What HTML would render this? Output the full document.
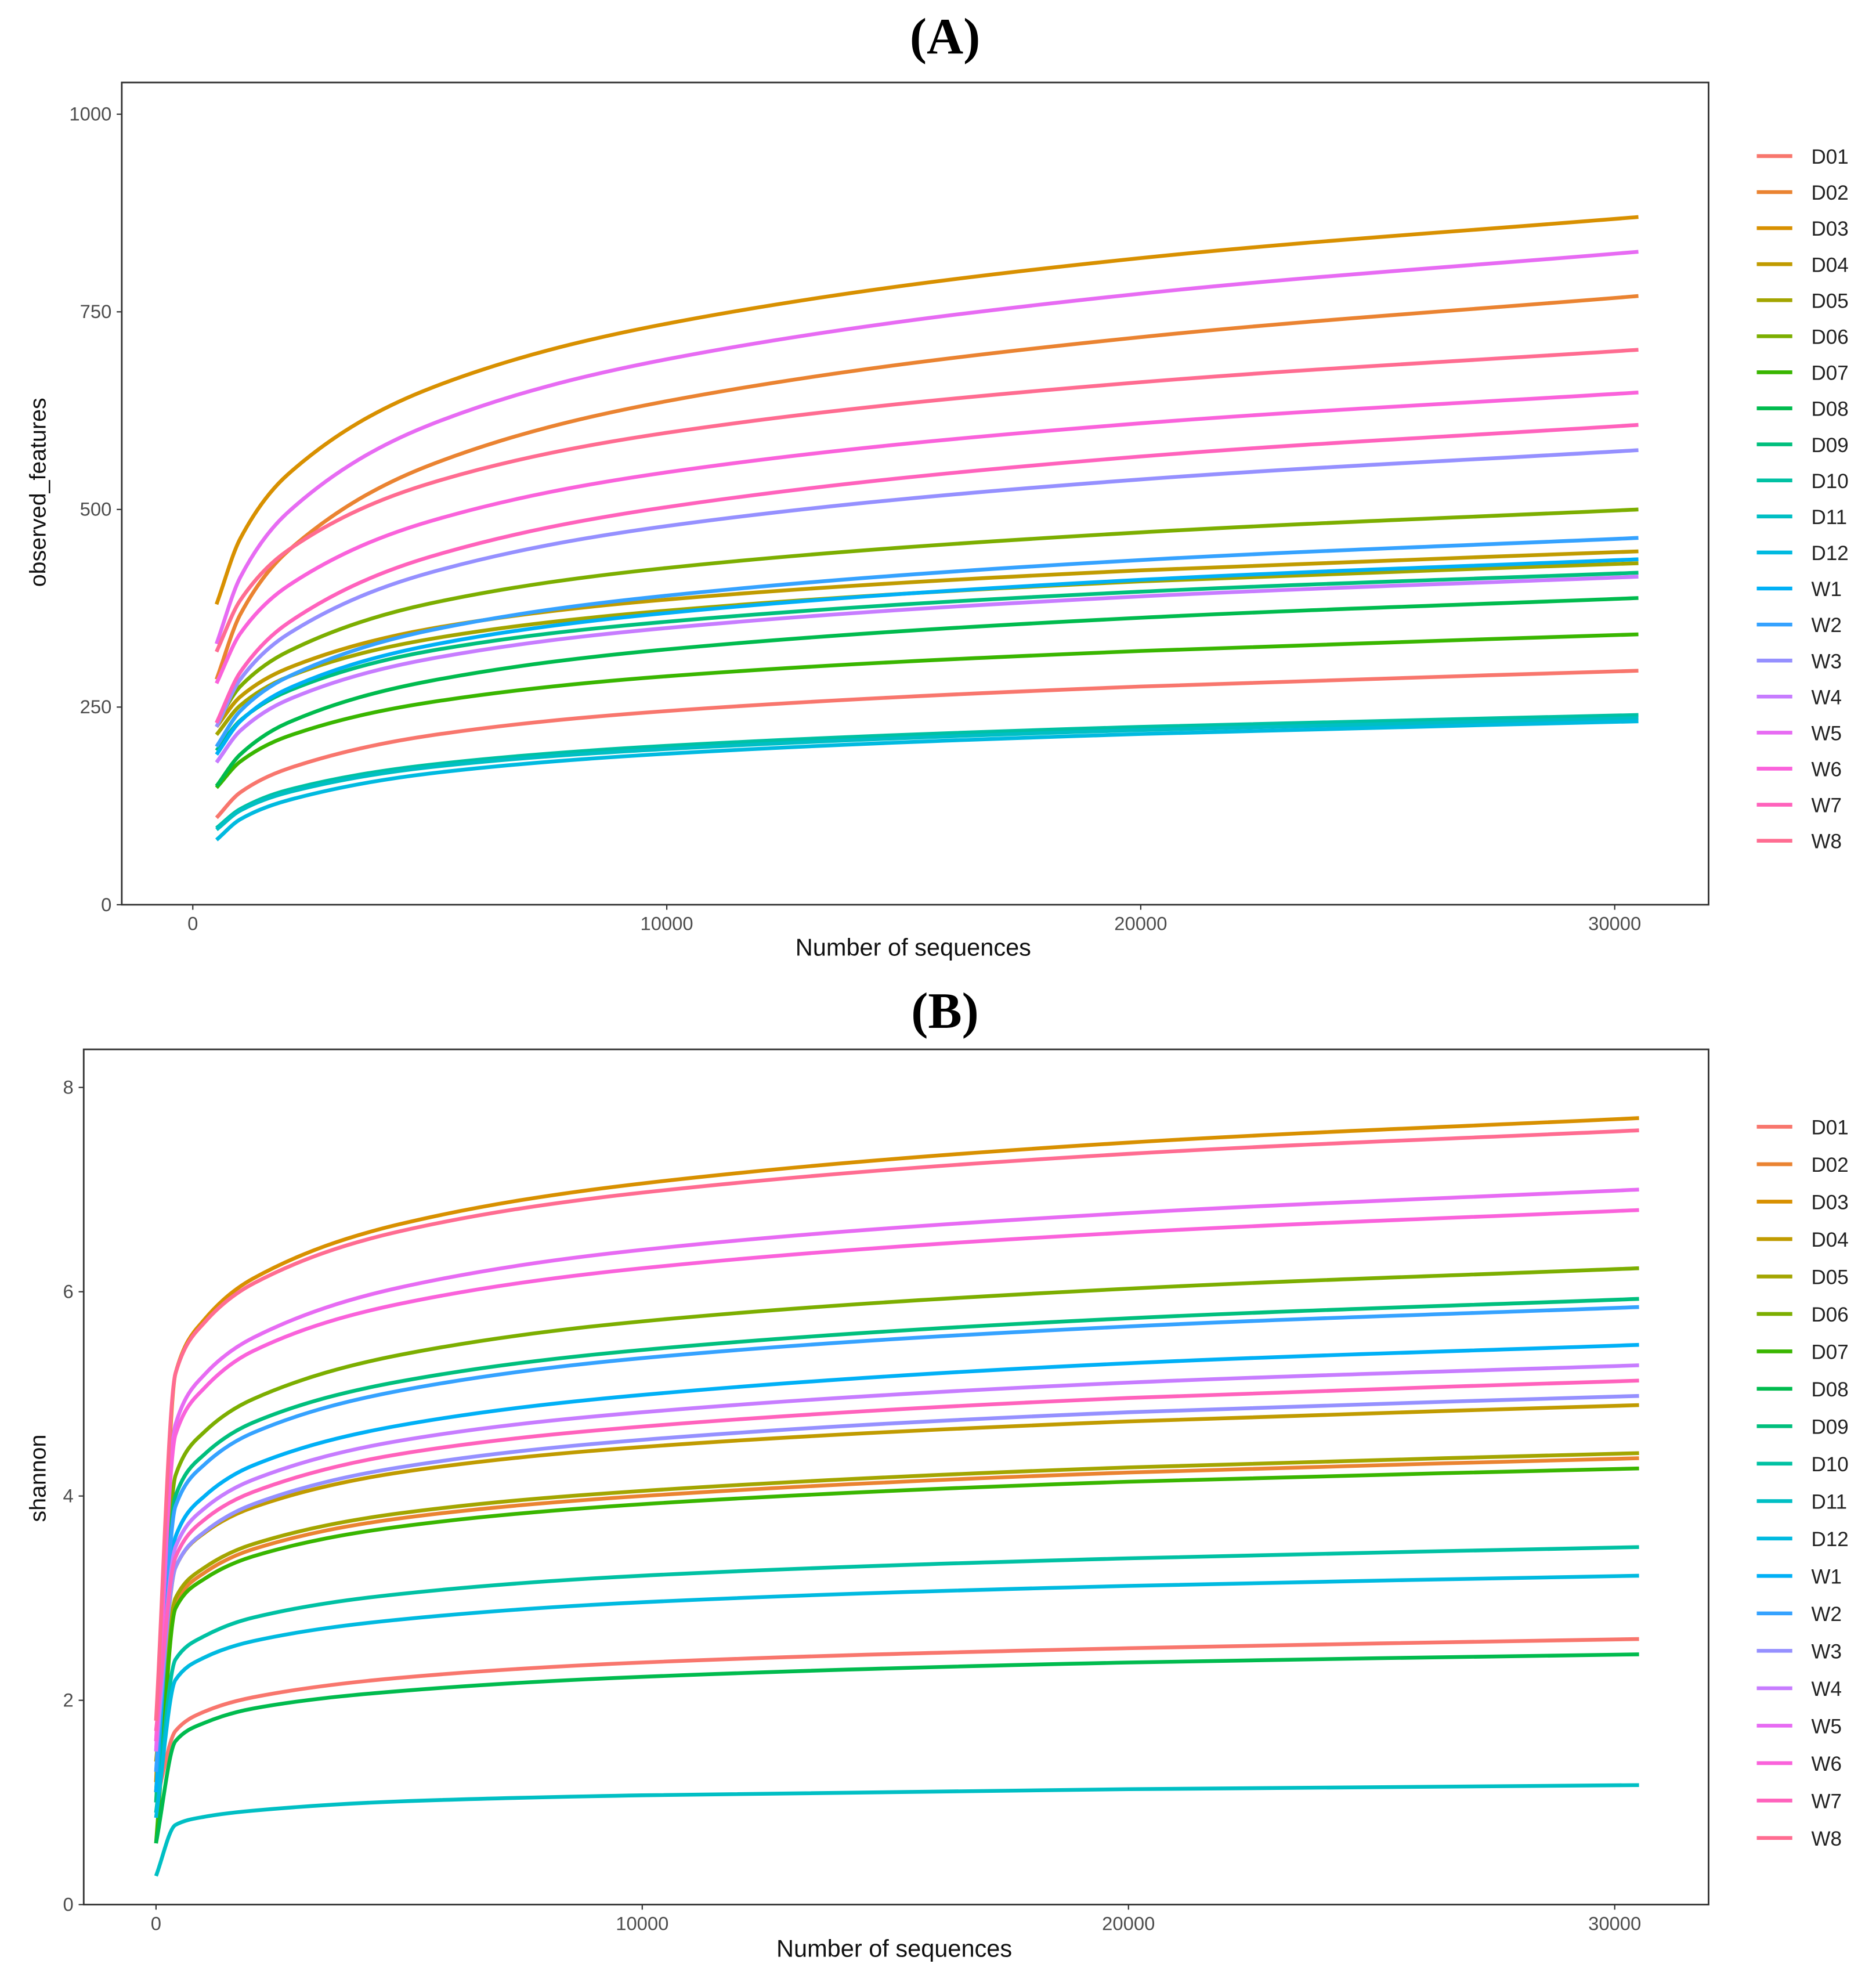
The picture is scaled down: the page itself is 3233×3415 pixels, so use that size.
<!DOCTYPE html>
<html><head><meta charset="utf-8"><style>
html,body{margin:0;padding:0;background:#fff}
svg{display:block}
text{font-family:"Liberation Sans",sans-serif}
</style></head><body>
<svg id="fig" width="3233" height="3415" viewBox="0 0 1479 1562" preserveAspectRatio="none" xmlns="http://www.w3.org/2000/svg">
<text x="745" y="42" text-anchor="middle" font-family="Liberation Serif,serif" font-weight="bold" font-size="40" style="font-family:'Liberation Serif',serif">(A)</text>
<text x="745" y="810" text-anchor="middle" font-weight="bold" font-size="40" style="font-family:'Liberation Serif',serif">(B)</text>
<g id="pa"></g>
<g id="pb"></g>
</svg>
<script>
const seriesNames = ["D01","D02","D03","D04","D05","D06","D07","D08","D09","D10","D11","D12","W1","W2","W3","W4","W5","W6","W7","W8"];
const seriesColors = ["#F8766D","#EA8331","#D89000","#C09B00","#A3A500","#7CAE00","#39B600","#00BB4E","#00BF7D","#00C1A3","#00BFC4","#00BAE0","#00B0F6","#35A2FF","#9590FF","#C77CFF","#E76BF3","#FA62DB","#FF62BC","#FF6C91"];
const xTicks = [0,10000,20000,30000];
const aX = [500,1000,2000,5000,10000,20000,30500];
const aYTicks = [0,250,500,750,1000];
const aValues = {
D01:[110,142,172,214,245,276,296],
D02:[285,367,447,556,637,718,770],
D03:[380,463,544,653,735,818,870],
D04:[225,263,299,349,386,423,447],
D05:[215,252,288,336,372,409,432],
D06:[230,276,320,381,426,471,500],
D07:[148,181,213,256,289,321,342],
D08:[150,190,230,283,323,363,388],
D09:[195,233,270,321,358,396,420],
D10:[97,121,145,177,201,225,240],
D11:[95,119,142,174,197,221,236],
D12:[82,108,132,166,191,216,232],
W1:[190,232,273,328,369,411,437],
W2:[200,245,288,347,391,436,464],
W3:[225,285,342,420,479,538,575],
W4:[180,220,259,311,350,390,415],
W5:[330,414,496,607,690,773,826],
W6:[280,343,403,485,547,609,648],
W7:[230,294,356,440,503,567,607],
W8:[320,385,448,533,597,661,702]};
const bX = [0,400,1000,2000,5000,10000,20000,30500];
const bYTicks = [0,2,4,6,8];
const bValues = {
D01:[1.0,1.7,1.89,2.03,2.22,2.37,2.51,2.60],
D02:[1.2,2.95,3.25,3.48,3.78,4.00,4.23,4.37],
D03:[1.2,5.2,5.73,6.13,6.66,7.06,7.46,7.70],
D04:[1.4,3.3,3.64,3.89,4.23,4.48,4.73,4.89],
D05:[1.1,3.0,3.30,3.53,3.83,4.05,4.28,4.42],
D06:[1.1,4.2,4.63,4.95,5.38,5.71,6.03,6.23],
D07:[0.6,2.9,3.19,3.41,3.70,3.92,4.14,4.27],
D08:[0.6,1.6,1.78,1.92,2.09,2.23,2.37,2.45],
D09:[1.0,4.0,4.41,4.72,5.12,5.43,5.74,5.93],
D10:[0.9,2.4,2.63,2.81,3.04,3.22,3.39,3.50],
D11:[0.28,0.78,0.86,0.92,1.01,1.07,1.13,1.17],
D12:[0.85,2.2,2.42,2.58,2.79,2.96,3.12,3.22],
W1:[1.1,3.6,4.00,4.30,4.69,4.99,5.30,5.48],
W2:[1.3,3.9,4.31,4.62,5.03,5.35,5.66,5.85],
W3:[1.5,3.3,3.65,3.92,4.28,4.55,4.82,4.98],
W4:[1.6,3.5,3.88,4.16,4.54,4.82,5.11,5.28],
W5:[1.5,4.7,5.19,5.55,6.04,6.41,6.77,7.00],
W6:[1.6,4.6,5.06,5.42,5.88,6.23,6.58,6.80],
W7:[1.7,3.4,3.77,4.04,4.41,4.68,4.96,5.13],
W8:[1.8,5.2,5.70,6.08,6.59,6.97,7.35,7.58]};

const NS="http://www.w3.org/2000/svg";
function mk(tag,attrs,parent){const e=document.createElementNS(NS,tag);for(const k in attrs)e.setAttribute(k,attrs[k]);parent.appendChild(e);return e;}
function monotone(pts){
  const n=pts.length;const dx=[],sl=[];
  for(let i=0;i<n-1;i++){dx.push(pts[i+1][0]-pts[i][0]);sl.push((pts[i+1][1]-pts[i][1])/dx[i]);}
  const m=new Array(n);m[0]=sl[0];m[n-1]=sl[n-2];
  for(let i=1;i<n-1;i++){ if(sl[i-1]*sl[i]<=0)m[i]=0; else {const w1=2*dx[i]+dx[i-1],w2=dx[i]+2*dx[i-1];m[i]=(w1+w2)/(w1/sl[i-1]+w2/sl[i]);}}
  let d="M"+pts[0][0].toFixed(2)+","+pts[0][1].toFixed(2);
  for(let i=0;i<n-1;i++){const h=dx[i]/3;
    d+=" C"+(pts[i][0]+h).toFixed(2)+","+(pts[i][1]+m[i]*h).toFixed(2)+" "+(pts[i+1][0]-h).toFixed(2)+","+(pts[i+1][1]-m[i+1]*h).toFixed(2)+" "+pts[i+1][0].toFixed(2)+","+pts[i+1][1].toFixed(2);}
  return d;
}
function panel(g,cfg){
  const sx=v=>cfg.x0+(v/30000)*(cfg.x30-cfg.x0);
  const sy=v=>cfg.yb-(v/cfg.ymax)*(cfg.yb-cfg.yt);
  const box=mk("rect",{x:cfg.L,y:cfg.T,width:cfg.R-cfg.L,height:cfg.B-cfg.T,fill:"none",stroke:"#333","stroke-width":1.3},g);
  
  
  cfg.yTicks.forEach(t=>{
    const y=sy(t);
    const tk=mk("line",{x1:cfg.L-4,x2:cfg.L,y1:y,y2:y,stroke:"#333","stroke-width":1},g);
    
    
    const tx=mk("text",{x:cfg.L-8,y:y+5,"text-anchor":"end","font-size":15,fill:"#4d4d4d"},g);tx.textContent=t;
    
    
  });
  xTicks.forEach(t=>{
    const x=sx(t);
    const tk=mk("line",{x1:x,x2:x,y1:cfg.B,y2:cfg.B+4,stroke:"#333","stroke-width":1},g);
    
    
    const tx=mk("text",{x:x,y:cfg.B+20,"text-anchor":"middle","font-size":15,fill:"#4d4d4d"},g);tx.textContent=t;
    
    
  });
  const xl=mk("text",{x:cfg.xlx,y:cfg.xly,"text-anchor":"middle","font-size":19,fill:"#111"},g);xl.textContent="Number of sequences";
  
  
  const yl=mk("text",{x:0,y:0,transform:"translate(36,"+cfg.yly+") rotate(-90)","text-anchor":"middle","font-size":18,fill:"#111"},g);yl.textContent=cfg.ylabel;
  
  
  seriesNames.forEach((nm,i)=>{
    const vals=cfg.values[nm];
    const pts=cfg.xs.map((xv,j)=>[sx(xv),sy(vals[j])]);
    const p=mk("path",{d:monotone(pts),fill:"none",stroke:seriesColors[i],"stroke-width":3,"stroke-linejoin":"round"},g);
    
    
    const ly=cfg.lg0+i*cfg.lgStep;
    const lg=mk("g",{},g);
    
    
    mk("line",{x1:1385,x2:1413,y1:ly,y2:ly,stroke:seriesColors[i],"stroke-width":3},lg);
    const t=mk("text",{x:1428,y:ly+6,"font-size":16,fill:"#222"},lg);t.textContent=nm;
  });
}
panel(document.getElementById("pa"),{L:96,T:65,R:1347,B:713,x0:152,x30:1273,yb:713,yt:90,ymax:1000,yTicks:aYTicks,xs:aX,values:aValues,xlx:720,xly:753,yly:388,ylabel:"observed_features",lg0:123,lgStep:28.4});
panel(document.getElementById("pb"),{L:66,T:827,R:1347,B:1501,x0:123,x30:1273,yb:1501,yt:857,ymax:8,yTicks:bYTicks,xs:bX,values:bValues,xlx:705,xly:1542,yly:1165,ylabel:"shannon",lg0:888,lgStep:29.5});
</script>
</body></html>
